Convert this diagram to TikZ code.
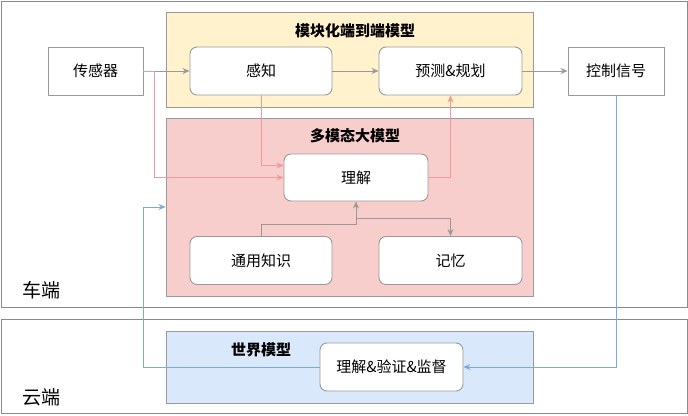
\documentclass[tikz,border=0pt]{standalone}
\usepackage{fontspec}
\setmainfont{Noto Sans CJK SC}
\usetikzlibrary{positioning, arrows.meta}

\definecolor{linegray}{HTML}{999999}
\definecolor{pinkline}{HTML}{EE9C99}
\definecolor{blueline}{HTML}{7EA6E0}
\definecolor{yellowfill}{HTML}{FFF2CC}
\definecolor{pinkfill}{HTML}{F8CECC}
\definecolor{bluefill}{HTML}{DAE8FC}

\tikzset{
  region/.style={draw=linegray!90!black, line width=1pt},
  group/.style={draw=linegray, line width=0.9pt, minimum width=367pt, inner sep=0pt},
  grouptitle/.style={font=\fontsize{15}{17}\selectfont\bfseries},
  block/.style={draw=linegray, fill=white, rounded corners=7pt, line width=0.9pt,
    minimum width=143pt, minimum height=48pt},
  plainbox/.style={draw=linegray, fill=white, line width=0.9pt,
    minimum width=95pt, minimum height=48pt},
  grayarrow/.style={draw=linegray, line width=1pt, -{Stealth[length=7pt,width=6pt]}},
  pinkarrow/.style={draw=pinkline, line width=1pt, -{Stealth[length=7pt,width=6pt]}},
  bluearrow/.style={draw=blueline, line width=1pt, -{Stealth[length=7pt,width=6pt]}}
}

\begin{document}
\begin{tikzpicture}[x=1pt, y=-1pt, font=\fontsize{15}{17}\selectfont]
    \useasboundingbox (0,0) rectangle (688,415);  % page size
    % car side and cloud side
    \draw[region] (1,1) rectangle (687,307);
    \draw[region] (1,319) rectangle (687,413);
    \node[font=\fontsize{19}{21}\selectfont] (car) at (42,290) {车端};
    \node[font=\fontsize{19}{21}\selectfont] (cloud) at (42,397) {云端};

    % group boxes
    \node[group, fill=yellowfill, minimum height=95pt] (e2e) at (349.5,59.5) {};
    \node[group, fill=pinkfill, minimum height=178pt] (mm) at (349.5,207) {};
    \node[group, fill=bluefill, minimum height=72pt] (world) at (349.5,367) {};
    \node[grouptitle] (e2etitle) at (355,31) {模块化端到端模型};
    \node[grouptitle] (mmtitle) at (355,136) {多模态大模型};
    \node[grouptitle] (worldtitle) at (261,350) {世界模型};

    % blocks
    \node[plainbox] (sensor) at (95.5,71) {传感器};
    \node[block, minimum width=142pt] (percep) at (261,71) {感知};
    \node[block] (plan) at (450.5,71) {预测\&规划};
    \node[plainbox, minimum width=96pt] (ctrl) at (616,71) {控制信号};
    \node[block, minimum width=144pt, minimum height=47pt] (und) at (356,177.5) {理解};
    \node[block, minimum width=142pt] (know) at (261,260.5) {通用知识};
    \node[block] (mem) at (450.5,260.5) {记忆};
    \node[block] (wm) at (391.5,367) {理解\&验证\&监督};

    % main chain
    \draw[grayarrow] (sensor) -- (percep);
    \draw[grayarrow] (percep) -- (plan);
    \draw[grayarrow] (plan) -- (ctrl);
    \draw[grayarrow] (know.north) |- ([yshift=-23pt]und.south) -- (und.south);
    \draw[grayarrow] ([yshift=-17pt]und.south) -| (mem.north);

    % pink links into and out of the large model
    \draw[pinkarrow] (sensor.east) -- ++(11,0) |- (und.west);
    \draw[pinkarrow] (percep.south) |- ([yshift=12pt]und.west);
    \draw[pinkarrow] (und.east) -| (plan.south);

    % cloud loop
    \coordinate (loopcorner) at (143,207);
    \draw[bluearrow] (ctrl.south) |- (wm.east);
    \draw[bluearrow] (wm.west) -| (loopcorner) -- (mm.west);
\end{tikzpicture}
\end{document}
